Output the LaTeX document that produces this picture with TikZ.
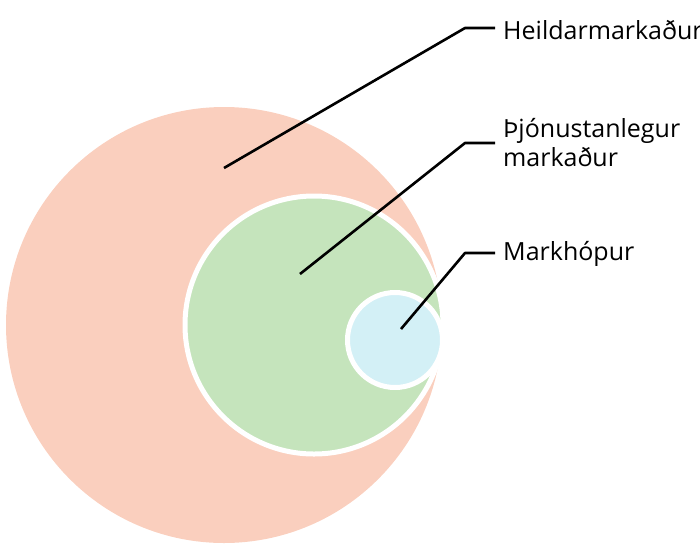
\documentclass[tikz,border=0pt]{standalone}
\usepackage{fontspec}
\setmainfont{Open Sans}
\definecolor{salmon}{RGB}{250,207,190}
\definecolor{leaf}{RGB}{197,228,188}
\definecolor{sky}{RGB}{211,240,246}
\begin{document}
\begin{tikzpicture}[x=1pt,y=-1pt,
  lbl/.style={anchor=base west,inner sep=0pt,font=\fontsize{25}{29}\selectfont,align=left},
  leader/.style={draw=black,line width=2.6pt,line join=round}]
\useasboundingbox (0,0) rectangle (700,549);
\clip (0,0) rectangle (700,549);
\fill[salmon] (224,325) circle[radius=218pt];
\filldraw[fill=leaf,draw=white,line width=5pt] (314,325) circle[radius=129pt];
\filldraw[fill=sky,draw=white,line width=5pt] (395,340) circle[radius=47.5pt];
\node[lbl] (h) at (503,39) {Heildarmarkaður};
\node[lbl] (t) at (503,166) {Þjónustanlegur\\markaður};
\node[lbl] (m) at (503,260) {Markhópur};
\coordinate (h0) at (224,168);
\coordinate (h1) at (465,28);
\coordinate (h2) at (495,28);
\coordinate (t0) at (300,274);
\coordinate (t1) at (465,143);
\coordinate (t2) at (495,143);
\coordinate (m0) at (401,329);
\coordinate (m1) at (465,253);
\coordinate (m2) at (495,253);
\draw[leader] (h0) -- (h1) -- (h2);
\draw[leader] (t0) -- (t1) -- (t2);
\draw[leader] (m0) -- (m1) -- (m2);
\end{tikzpicture}
\end{document}
